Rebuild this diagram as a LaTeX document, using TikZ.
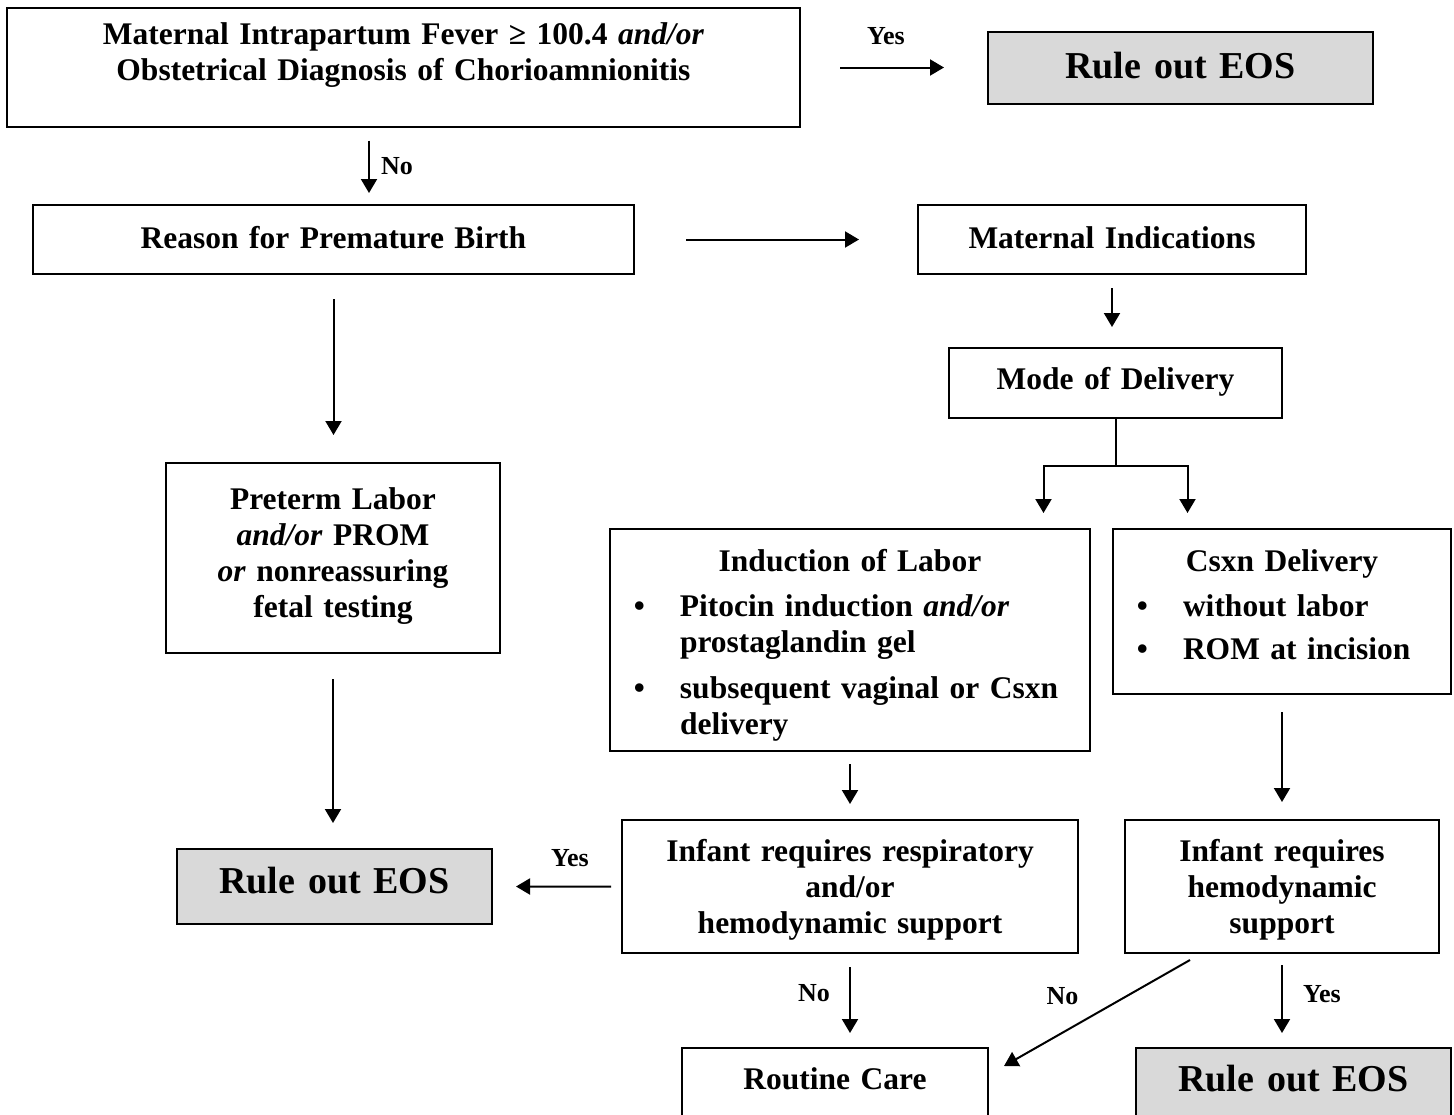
\documentclass[tikz,border=0pt]{standalone}
\usepackage{fontspec}
\setmainfont{Liberation Serif}
\usetikzlibrary{arrows.meta}
\newcommand{\bodyfont}{\fontsize{12.6}{14.4}\selectfont\bfseries}
\newcommand{\eosfont}{\fontsize{15.2}{18}\selectfont\bfseries}
\newcommand{\lblfont}{\fontsize{10.4}{12}\selectfont\bfseries}
\newcommand{\bitem}[2][0pt]{\par\vspace{#1}\leftskip=28pt\noindent\llap{\textbullet\hspace{14pt}}#2\par}
\begin{document}
\begin{tikzpicture}[x=0.4pt,y=-0.4pt,
    box/.style={draw,line width=0.8pt,inner sep=0pt,anchor=north,align=center,font=\bodyfont},
    eos/.style={box,fill=black!15,font=\eosfont},
    arr/.style={line width=0.8pt,-{Triangle[length=5.6pt,width=6.4pt]}},
    lbl/.style={inner sep=0pt,font=\lblfont}]
    \useasboundingbox (0,0) rectangle (1454,1114);
    \clip (0,0) rectangle (1454,1114);
    % boxes
    \node[box,text width=317.2pt,text height=14.4pt,text depth=33.2pt] (fever) at (403.5,7)
        {Maternal Intrapartum Fever ≥ 100.4 \textit{and/or}\\Obstetrical Diagnosis of Chorioamnionitis};
    \node[eos,text width=154pt,text height=18.4pt,text depth=10.4pt] (eosT) at (1180.5,31) {Rule out EOS};
    \node[box,text width=240.4pt,text height=17.2pt,text depth=10.4pt] (reason) at (333.5,204) {Reason for Premature Birth};
    \node[box,text width=155.2pt,text height=17.2pt,text depth=10.4pt] (matind) at (1112,204) {Maternal Indications};
    \node[box,text width=133.2pt,text height=16.4pt,text depth=11.6pt] (mode) at (1115.5,347) {Mode of Delivery};
    \node[box,align=left,text width=192pt,text height=16.8pt,text depth=72pt] (induct) at (850,528)
        {{\centering Induction of Labor\par}
         \bitem[3.6pt]{Pitocin induction \textit{and/or}\\prostaglandin gel}
         \bitem[4pt]{subsequent vaginal or Csxn\\delivery}};
    \node[box,align=left,text width=135.2pt,text height=16.8pt,text depth=49.2pt] (csxn) at (1282,528)
        {{\centering Csxn Delivery\par}
         \bitem[3.6pt]{without labor}
         \bitem[2.8pt]{ROM at incision}};
    \node[box,text width=133.6pt,text height=18.4pt,text depth=57.6pt] (preterm) at (333,462)
        {Preterm Labor\\\textit{and/or} PROM\\\textit{or} nonreassuring\\fetal testing};
    \node[eos,text width=126pt,text height=17.6pt,text depth=12.4pt] (eosL) at (334.5,848) {Rule out EOS};
    \node[box,text width=182.4pt,text height=16.4pt,text depth=36.8pt] (infresp) at (850,819)
        {Infant requires respiratory\\and/or\\hemodynamic support};
    \node[box,text width=125.6pt,text height=16.4pt,text depth=36.8pt] (infhemo) at (1282,819)
        {Infant requires\\hemodynamic\\support};
    \node[box,text width=122.4pt,text height=16.4pt,text depth=32pt] (routine) at (835,1047) {Routine Care};
    \node[eos,text width=126pt,text height=17.2pt,text depth=32pt] (eosB) at (1293.5,1047) {Rule out EOS};
    % arrows
    \coordinate (noA) at ([xshift=14.2pt]reason.north);
    \draw[arr,shorten <=15.6pt,shorten >=17.2pt] (fever.east) -- (fever.east -| eosT.west)
        node[lbl,midway,xshift=-3.2pt,yshift=12.6pt] {Yes};
    \draw[arr,shorten <=5pt,shorten >=4.4pt] (noA |- fever.south) -- (noA)
        node[lbl,midway,xshift=11.2pt] {No};
    \draw[arr,shorten <=20.4pt,shorten >=23.2pt] (reason) -- (matind);
    \draw[arr,shorten <=5.2pt,shorten >=8pt] (matind.south) -- (matind.south |- mode.north);
    \draw[line width=0.8pt] (mode.south) -- ++(0,47) coordinate (split);
    \foreach \dx in {-72,72}
        \draw[arr] (split) -- ++(\dx,0) -- ++(0,47);
    \draw[arr,shorten <=9.6pt,shorten >=10.8pt] (reason.south) -- (reason.south |- preterm.north);
    \draw[arr,shorten <=10pt,shorten >=10pt] (preterm.south) -- (preterm.south |- eosL.north);
    \draw[arr,shorten <=4.8pt,shorten >=6pt] (induct.south) -- (induct.south |- infresp.north);
    \draw[arr,shorten <=6.8pt,shorten >=6.8pt] (csxn.south) -- (csxn.south |- infhemo.north);
    \draw[arr,shorten <=4pt,shorten >=9.2pt] (infresp.west) -- (eosL.east)
        node[lbl,midway,xshift=5.2pt,yshift=11.4pt] {Yes};
    \draw[arr,shorten <=5.2pt,shorten >=5.6pt] (infresp.south) -- (infresp.south |- routine.north)
        node[lbl,midway,xshift=-14.4pt,yshift=3pt] {No};
    \draw[arr] ([xshift=-36.8pt,yshift=-2.4pt]infhemo.south) -- ([xshift=6pt,yshift=-7.6pt]routine.north east)
        node[lbl,midway,xshift=-13.8pt,yshift=6.8pt] {No};
    \draw[arr,shorten <=4.4pt,shorten >=5.6pt] (infhemo.south) -- (infhemo.south |- eosB.north)
        node[lbl,midway,xshift=16pt,yshift=2.6pt] {Yes};
\end{tikzpicture}
\end{document}
